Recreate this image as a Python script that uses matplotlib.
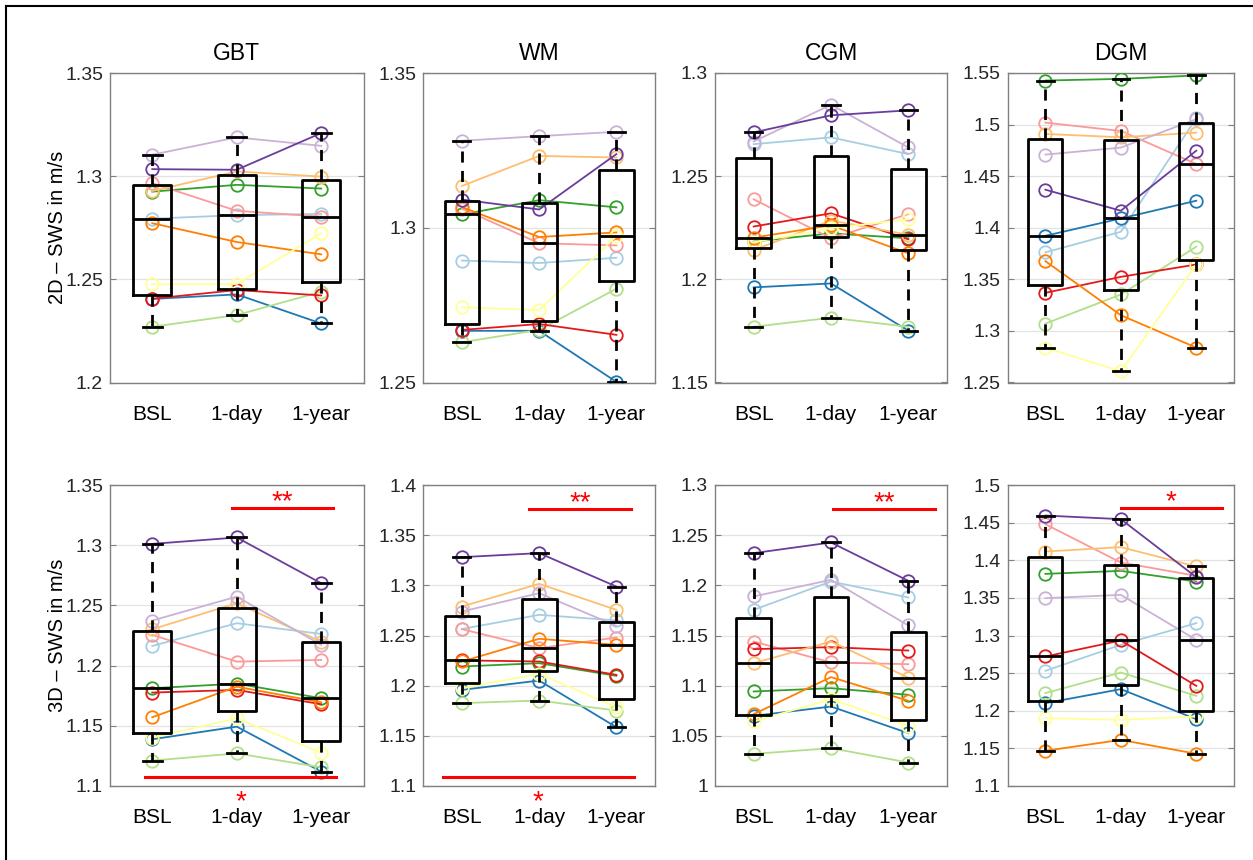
import numpy as np
import matplotlib.pyplot as plt
from matplotlib.lines import Line2D

plt.rcParams['font.family'] = ['Liberation Sans', 'DejaVu Sans']

# === Data ===
# subjects in colour order (Paired): lb, b, lg, g, pk, r, lo, o, lp, p, y
timepoints = ['BSL', '1-day', '1-year']
regions = ['GBT', 'WM', 'CGM', 'DGM']
colors = ['#a6cee3', '#1f78b4', '#b2df8a', '#33a02c', '#fb9a99', '#e31a1c',
          '#fdbf6f', '#ff7f00', '#cab2d6', '#6a3d9a', '#ffff99']

gbt_2d = [[1.2794, 1.2811, 1.2817], [1.2405, 1.2427, 1.2286], [1.2270, 1.2327, 1.2440],
          [1.2925, 1.2958, 1.2940], [1.2966, 1.2832, 1.2804], [1.2406, 1.2448, 1.2422],
          [1.2928, 1.3023, 1.2998], [1.2772, 1.2681, 1.2621], [1.3104, 1.3188, 1.3147],
          [1.3034, 1.3031, 1.3209], [1.2476, 1.2477, 1.2723]]
wm_2d = [[1.2894, 1.2886, 1.2903], [1.2667, 1.2667, 1.2502], [1.2630, 1.2670, 1.2803],
         [1.3043, 1.3089, 1.3066], [1.3062, 1.2950, 1.2943], [1.2670, 1.2689, 1.2654],
         [1.3135, 1.3232, 1.3227], [1.3067, 1.2970, 1.2985], [1.3281, 1.3296, 1.3310],
         [1.3091, 1.3059, 1.3238], [1.2743, 1.2734, 1.2973]]
cgm_2d = [[1.2655, 1.2688, 1.2607], [1.1961, 1.1980, 1.1751], [1.1770, 1.1814, 1.1770],
          [1.2183, 1.2223, 1.2199], [1.2388, 1.2199, 1.2316], [1.2256, 1.2320, 1.2194],
          [1.2142, 1.2285, 1.2216], [1.2202, 1.2262, 1.2126], [1.2668, 1.2846, 1.2639],
          [1.2712, 1.2795, 1.2819], [1.2180, 1.2248, 1.2291]]
dgm_2d = [[1.3761, 1.3961, 1.5061], [1.3922, 1.4090, 1.4262], [1.3071, 1.3353, 1.3816],
          [1.5427, 1.5443, 1.5476], [1.5019, 1.4938, 1.4618], [1.3369, 1.3524, 1.3644],
          [1.4909, 1.4877, 1.4922], [1.3676, 1.3152, 1.2838], [1.4709, 1.4777, 1.5052],
          [1.4369, 1.4165, 1.4747], [1.2838, 1.2609, 1.3644]]

gbt_3d = [[1.2163, 1.2352, 1.2263], [1.1388, 1.1493, 1.1119], [1.1211, 1.1271, 1.1155],
          [1.1812, 1.1850, 1.1729], [1.2255, 1.2033, 1.2047], [1.1776, 1.1798, 1.1679],
          [1.2302, 1.2518, 1.2199], [1.1571, 1.1825, 1.1695], [1.2374, 1.2573, 1.2172],
          [1.3011, 1.3064, 1.2684], [1.1402, 1.1562, 1.1277]]
wm_3d = [[1.2565, 1.2706, 1.2650], [1.1958, 1.2051, 1.1586], [1.1826, 1.1852, 1.1752],
         [1.2191, 1.2224, 1.2098], [1.2563, 1.2374, 1.2480], [1.2252, 1.2241, 1.2108],
         [1.2789, 1.3015, 1.2756], [1.2241, 1.2467, 1.2407], [1.2739, 1.2922, 1.2596],
         [1.3281, 1.3321, 1.2988], [1.1975, 1.2118, 1.1786]]
cgm_3d = [[1.1756, 1.2038, 1.1879], [1.0699, 1.0792, 1.0527], [1.0320, 1.0377, 1.0234],
          [1.0942, 1.0975, 1.0909], [1.1440, 1.1231, 1.1214], [1.1364, 1.1384, 1.1350],
          [1.1224, 1.1440, 1.1080], [1.0716, 1.1085, 1.0849], [1.1889, 1.2055, 1.1600],
          [1.2321, 1.2427, 1.2045], [1.0643, 1.0865, 1.0600]]
dgm_3d = [[1.2531, 1.2876, 1.3164], [1.2101, 1.2287, 1.1888], [1.2234, 1.2508, 1.2198],
          [1.3819, 1.3859, 1.3717], [1.4479, 1.3970, 1.3793], [1.2721, 1.2934, 1.2331],
          [1.4116, 1.4174, 1.3917], [1.1468, 1.1613, 1.1428], [1.3496, 1.3540, 1.2942],
          [1.4594, 1.4546, 1.3775], [1.1902, 1.1879, 1.1924]]

data_2d = [gbt_2d, wm_2d, cgm_2d, dgm_2d]
data_3d = [gbt_3d, wm_3d, cgm_3d, dgm_3d]

ylims_2d = [(1.2, 1.35), (1.25, 1.35), (1.15, 1.3), (1.25, 1.55)]
ylims_3d = [(1.1, 1.35), (1.1, 1.4), (1.0, 1.3), (1.1, 1.5)]

# significance bars: (x start, x end, y, label, label below axis)
sig_3d = [
    [(1.94, 3.14, 1.3307, '**', False), (0.92, 3.17, 1.1072, '*', True)],
    [(1.874, 3.195, 1.3765, '**', False), (0.749, 3.225, 1.1089, '*', True)],
    [(2.03, 3.345, 1.2765, '**', False)],
    [(1.998, 3.34, 1.4692, '*', False)],
]

# === Layout (pixels) ===
W, H = 1253, 860
lefts = [110, 423.3, 715, 1007.7]
rights = [363.5, 655, 947, 1234]
rows = [(73, 382.5), (485, 786)]

fig = plt.figure(figsize=(W / 100, H / 100), dpi=100)

# border of the exported figure (left and top visible)
fig.add_artist(Line2D([6 / W, 6 / W], [0, 1 - 6 / H], color='black', lw=1.5,
                      transform=fig.transFigure))
fig.add_artist(Line2D([6 / W, 1], [1 - 6 / H, 1 - 6 / H], color='black', lw=1.5,
                      transform=fig.transFigure))


def box_stats(vals):
    vals = np.asarray(vals)
    return dict(med=np.median(vals),
                q1=np.percentile(vals, 25, method='hazen'),
                q3=np.percentile(vals, 75, method='hazen'),
                whislo=vals.min(), whishi=vals.max(), fliers=[])


def draw_panel(ax, subj, ylim, sigs):
    subj = np.asarray(subj)
    x = np.arange(1, 4)
    for i in range(subj.shape[0]):
        ax.plot(x, subj[i], '-o', color=colors[i], lw=1.3, ms=9,
                mfc='none', mew=1.3, zorder=3)
    stats = [box_stats(subj[:, j]) for j in range(3)]
    ax.bxp(stats, positions=x, widths=0.45, capwidths=0.22, showfliers=False,
           boxprops=dict(color='black', lw=2),
           medianprops=dict(color='black', lw=2),
           whiskerprops=dict(color='black', lw=2, ls=(0, (4, 3))),
           capprops=dict(color='black', lw=2), manage_ticks=False)
    for art in ax.lines[subj.shape[0]:]:
        art.set_zorder(4)

    ax.set_xlim(0.5, 3.5)
    ax.set_ylim(*ylim)
    ticks = np.arange(ylim[0], ylim[1] + 1e-9, 0.05)
    ax.set_yticks(ticks)
    ax.set_yticklabels(['%g' % round(t, 2) for t in ticks])
    ax.set_xticks(x)
    ax.set_xticklabels(timepoints)
    ax.tick_params(axis='x', length=0, pad=16, labelsize=15, labelcolor='black')
    ax.tick_params(axis='y', direction='in', length=4, right=True, labelsize=14,
                   labelcolor='#262626', color='#808080', pad=5)
    ax.yaxis.grid(True, color='#e3e3e3', lw=0.9)
    ax.set_axisbelow(True)
    for s in ax.spines.values():
        s.set_color('#808080')
        s.set_linewidth(1)

    for x0, x1, y, label, below in sigs:
        ax.plot([x0, x1], [y, y], color='red', lw=2.2, zorder=5, clip_on=False)
        xc = (x0 + x1) / 2
        if below:
            ax.annotate(label, (xc, 0), xycoords=('data', 'axes fraction'),
                        xytext=(0, -17), textcoords='offset points',
                        ha='center', va='baseline', color='red', fontsize=20,
                        annotation_clip=False)
        else:
            ax.annotate(label, (xc, y), xytext=(0, -1), textcoords='offset points',
                        ha='center', va='baseline', color='red', fontsize=20)


for r, (top, bottom) in enumerate(rows):
    for c in range(4):
        ax = fig.add_axes([lefts[c] / W, 1 - bottom / H,
                           (rights[c] - lefts[c]) / W, (bottom - top) / H])
        if r == 0:
            draw_panel(ax, data_2d[c], ylims_2d[c], [])
            ax.set_title(regions[c], fontsize=16.5, pad=9)
        else:
            draw_panel(ax, data_3d[c], ylims_3d[c], sig_3d[c])
        if c == 0:
            ax.set_ylabel('%s \u2013 SWS in m/s' % ('2D' if r == 0 else '3D'),
                          fontsize=14.5)
            ax.yaxis.set_label_coords(-0.17, 0.5)

fig.savefig('out.png', dpi=100)
